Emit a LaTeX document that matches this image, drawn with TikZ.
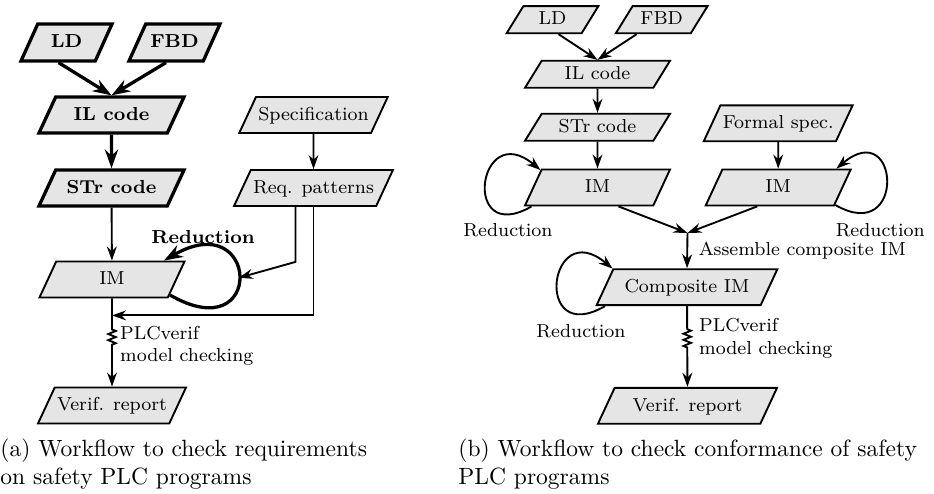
\documentclass[tikz,border=0pt]{standalone}
\usepackage{tikz}
\usetikzlibrary{shapes.geometric,arrows.meta,decorations.pathmorphing,calc}
\tikzstyle{data}=[trapezium, trapezium left angle=58.3, trapezium right angle=121.7, trapezium stretches body=true, draw=black, fill=black!10, line width=0.8pt, inner xsep=1pt, inner ysep=2pt, text height=6pt, text depth=1.5pt, minimum width=61.7pt, minimum height=15.3pt, font=\fontsize{8}{9.5}\selectfont]
\tikzstyle{datasmall}=[data, minimum height=11.5pt]
\tikzstyle{databold}=[data, line width=1.4pt, font=\fontsize{8}{9.5}\selectfont\bfseries]
\tikzstyle{annot}=[align=left, inner sep=0pt, font=\fontsize{8}{9.5}\selectfont]
\tikzstyle{flow}=[->, line width=0.8pt]
\tikzstyle{flowbold}=[>={Stealth[length=8pt, width=5.6pt, inset=2.6pt]}, ->, line width=1.4pt]
\tikzstyle{check}=[flow, decorate]
\tikzstyle{caption}=[align=left, inner sep=0pt, anchor=west, font=\fontsize{10}{12}\selectfont]

\begin{document}
\begin{tikzpicture}[x=0.4255pt, y=-0.4255pt, >={Stealth[length=6pt, width=4.2pt, inset=2pt]}]
	\useasboundingbox (0,0) rectangle (934,494);

	% (a) requirements
	\node[databold, minimum width=38.7pt, minimum height=15.7pt] (ldA) at (66.5,42.5) {LD};
	\node[databold, minimum width=38.7pt, minimum height=15.7pt] (fbdA) at (174.5,42.5) {FBD};
	\node[databold] (ilA) at (111.5,115) {IL code};
	\node[databold] (strA) at (111.5,188) {STr code};
	\node[data] (imA) at (112,279.5) {IM};
	\node[data] (verA) at (112,405.5) {Verif. report};
	\node[data] (specA) at (313.5,115) {Specification};
	\node[data] (reqA) at (313.5,188) {Req. patterns};
	\coordinate (mrgA) at ($(imA.south)+(0,17)$);

	\draw[flowbold] ($(ldA.south)+(-8,0)$) -- (ilA.north);
	\draw[flowbold] ($(fbdA.south)+(-8.5,0)$) -- (ilA.north);
	\draw[flowbold] (ilA) -- (strA);
	\draw[flow] (strA) -- (imA);
	\draw[flow] (specA) -- (reqA);
	\draw[flowbold] (imA.-15) to[out=-30, in=30, looseness=8.1] coordinate[pos=0.5] (loopA) (imA.20);
	\node[annot, font=\fontsize{8}{9.5}\selectfont\bfseries] (redA) at (203,237) {Reduction};
	\draw[flow] ($(reqA.south)+(-18,0)$) -- ++(0,55) -- (loopA);
	\draw[flow] (reqA.south) |- (mrgA);
	\draw[check, decoration={zigzag, amplitude=1.6pt, segment length=2.6pt, pre length=13.2pt, post length=17pt}] (imA) -- node[annot, right=3.1pt, pos=0.54] {PLCverif\\model checking} (verA);

	% (b) conformance
	\node[datasmall, minimum width=39pt] (ldB) at (552.5,19.7) {LD};
	\node[datasmall, minimum width=39pt] (fbdB) at (661.7,19.7) {FBD};
	\node[datasmall] (ilB) at (597.5,74.3) {IL code};
	\node[datasmall] (strB) at (597.5,127.3) {STr code};
	\node[data] (imB1) at (597.5,187.5) {IM};
	\node[data] (specB) at (778.2,123.3) {Formal spec.};
	\node[data] (imB2) at (778.2,187.5) {IM};
	\coordinate (join) at (687.5,233);
	\node[data, minimum width=76.9pt] (compB) at (687,287.2) {Composite IM};
	\node[data, minimum width=76.2pt] (verB) at (687.5,405.8) {Verif. report};

	\draw[flow] ($(ldB.south)+(6,0)$) -- (ilB.north);
	\draw[flow] ($(fbdB.south)+(-25,0)$) -- (ilB.north);
	\draw[flow] (ilB) -- (strB);
	\draw[flow] (strB) -- (imB1);
	\draw[flow] (specB) -- (imB2);
	\draw[flow] (imB1.196) to[out=210, in=140, looseness=5.6] (imB1.163);
	\draw[flow] (imB2.-17) to[out=-30, in=40, looseness=5.8] (imB2.18);
	\draw[flow] (compB.193) to[out=210, in=140, looseness=5.6] (compB.166);
	\node[annot] (redB1) at (508,230) {Reduction};
	\node[annot] (redB2) at (880.3,230) {Reduction};
	\node[annot] (redB3) at (581,330.7) {Reduction};
	\draw[flow] ($(imB1.south)+(21,0)$) -- (join);
	\draw[flow] ($(imB2.south)+(-21,0)$) -- (join);
	\draw[flow] (join) -- node[annot, right=4.5pt] {Assemble composite IM} (compB.north);
	\draw[check, decoration={zigzag, amplitude=1.6pt, segment length=2.6pt, pre length=9.8pt, post length=16.3pt}] (compB) -- node[annot, right=4.7pt, pos=0.4] {PLCverif\\model checking} (verB);

	\node[caption] (capA) at (0,464) {(a) Workflow to check requirements\\on safety PLC programs};
	\node[caption] (capB) at (458,464) {(b) Workflow to check conformance of safety\\PLC programs};
\end{tikzpicture}
\end{document}
